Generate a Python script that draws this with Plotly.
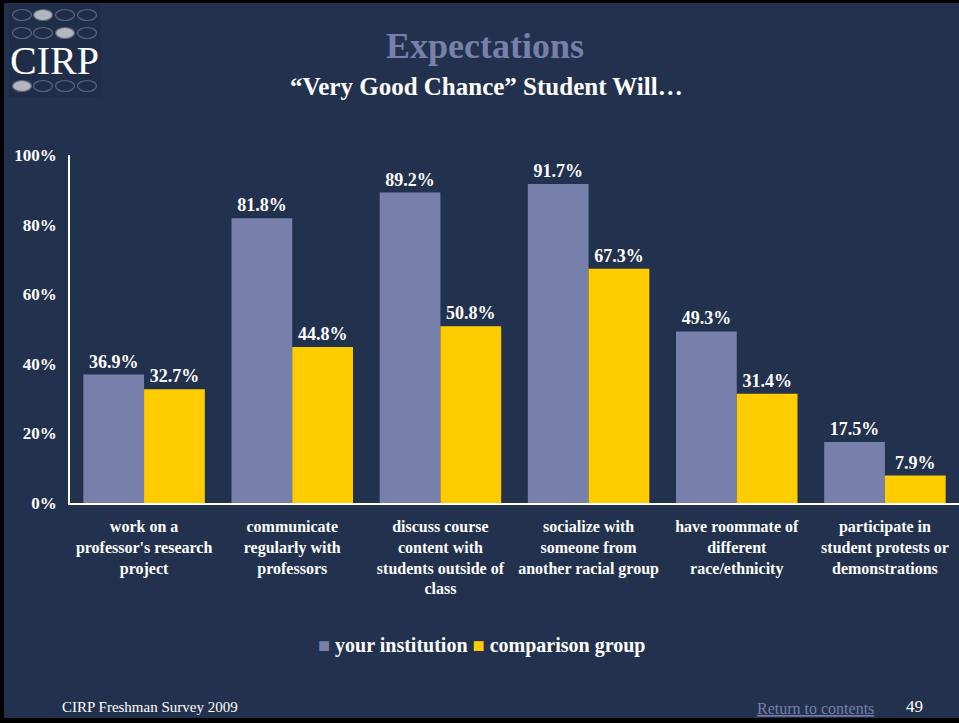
import plotly.graph_objects as go

categories = [
    "work on a<br>professor's research<br>project",
    "communicate<br>regularly with<br>professors",
    "discuss course<br>content with<br>students outside of<br>class",
    "socialize with<br>someone from<br>another racial group",
    "have roommate of<br>different<br>race/ethnicity",
    "participate in<br>student protests or<br>demonstrations",
]
series_names = ["your institution", "comparison group"]
your_institution = [36.9, 81.8, 89.2, 91.7, 49.3, 17.5]
comparison_group = [32.7, 44.8, 50.8, 67.3, 31.4, 7.9]
y_ticks = [0, 20, 40, 60, 80, 100]

W, H = 959, 723
L, R, T, B = 70, 0, 155, 220
PW = W - L - R
PH = H - T - B

def px(x):
    return (x - L) / PW

def py(y):
    return (H - B - y) / PH

BG = "#22324e"
BLUE = "#7680ab"
YEL = "#ffcc00"
FONT = "Liberation Serif"

fig = go.Figure()
for name, vals, col in [(series_names[0], your_institution, BLUE), (series_names[1], comparison_group, YEL)]:
    fig.add_trace(go.Bar(
        x=categories, y=vals, name=name,
        marker=dict(color=col, line=dict(width=0)),
        texttemplate="%{y:.1f}%", textposition="outside",
        textfont=dict(color="white", size=18, family=FONT, weight="bold"),
        cliponaxis=False, hoverinfo="skip", showlegend=False,
    ))

shapes = []
# black frame edges
shapes.append(dict(type="rect", xref="paper", yref="paper", x0=px(0), x1=px(4), y0=py(0), y1=py(H),
                   fillcolor="black", line=dict(width=0), layer="above"))
shapes.append(dict(type="rect", xref="paper", yref="paper", x0=px(0), x1=px(W), y0=py(0), y1=py(3),
                   fillcolor="black", line=dict(width=0), layer="above"))
shapes.append(dict(type="rect", xref="paper", yref="paper", x0=px(0), x1=px(W), y0=py(718), y1=py(H),
                   fillcolor="black", line=dict(width=0), layer="above"))
# logo box
shapes.append(dict(type="rect", xref="paper", yref="paper", x0=px(9), x1=px(101), y0=py(4), y1=py(97),
                   fillcolor="#1f2d49", line=dict(width=0), layer="below"))
oval_x = [22, 43, 65, 87]
oval_rows = [(15, 1), (33, 2), (86, 0)]
for yc, filled in oval_rows:
    for i, xc in enumerate(oval_x):
        shapes.append(dict(type="circle", xref="paper", yref="paper",
                           x0=px(xc - 9.5), x1=px(xc + 9.5), y0=py(yc - 5.5), y1=py(yc + 5.5),
                           fillcolor="#b3b6bc" if i == filled else "rgba(0,0,0,0)",
                           line=dict(color="#5a6680", width=1.2)))

legend_text = (f"<span style='color:{BLUE}'>\u25a0</span> {series_names[0]} "
               f"<span style='color:{YEL}'>\u25a0</span> {series_names[1]}")

annotations = [
    dict(text="CIRP", x=px(54), y=py(61), xref="paper", yref="paper", showarrow=False,
         font=dict(family=FONT, size=40, color="white"), xanchor="center", yanchor="middle"),
    dict(text="<b>Expectations</b>", x=px(485), y=py(46), xref="paper", yref="paper", showarrow=False,
         font=dict(family=FONT, size=36, color=BLUE), xanchor="center", yanchor="middle"),
    dict(text="<b>\u201cVery Good Chance\u201d Student Will\u2026</b>", x=px(486), y=py(86), xref="paper", yref="paper",
         showarrow=False, font=dict(family=FONT, size=25, color="white"), xanchor="center", yanchor="middle"),
    dict(text=f"<b>{legend_text}</b>", x=px(481), y=py(645), xref="paper", yref="paper", showarrow=False,
         font=dict(family=FONT, size=20, color="white"), xanchor="center", yanchor="middle"),
    dict(text="CIRP Freshman Survey 2009", x=px(60), y=py(707), xref="paper", yref="paper", showarrow=False,
         font=dict(family=FONT, size=15, color="white"), xanchor="left", yanchor="middle"),
    dict(text="<u>Return to contents</u>", x=px(876), y=py(708), xref="paper", yref="paper", showarrow=False,
         font=dict(family=FONT, size=16, color=BLUE), xanchor="right", yanchor="middle"),
    dict(text="49", x=px(914), y=py(706), xref="paper", yref="paper", showarrow=False,
         font=dict(family=FONT, size=17, color="white"), xanchor="center", yanchor="middle"),
]

fig.update_layout(
    width=W, height=H,
    margin=dict(l=L, r=R, t=T, b=B, pad=0),
    paper_bgcolor=BG, plot_bgcolor=BG,
    barmode="group", bargap=0.18, bargroupgap=0,
    font=dict(family=FONT, color="white"),
    showlegend=False,
    xaxis=dict(showgrid=False, showline=True, linecolor="white", linewidth=1.5,
               ticks="outside", ticklen=8, tickcolor=BG,
               tickfont=dict(family=FONT, size=16, color="white", weight="bold"),
               zeroline=False, fixedrange=True),
    yaxis=dict(range=[0, 100], tickvals=y_ticks, ticktext=[f"{v}%" for v in y_ticks],
               showgrid=False, showline=True, linecolor="white", linewidth=1.5,
               ticks="outside", ticklen=8, tickcolor=BG,
               tickfont=dict(family=FONT, size=17, color="white", weight="bold"),
               zeroline=False, fixedrange=True),
    shapes=shapes, annotations=annotations,
)

fig.write_html("out.html", config={"displayModeBar": False},
               post_script="document.body.style.margin='0';document.body.style.padding='0';")
